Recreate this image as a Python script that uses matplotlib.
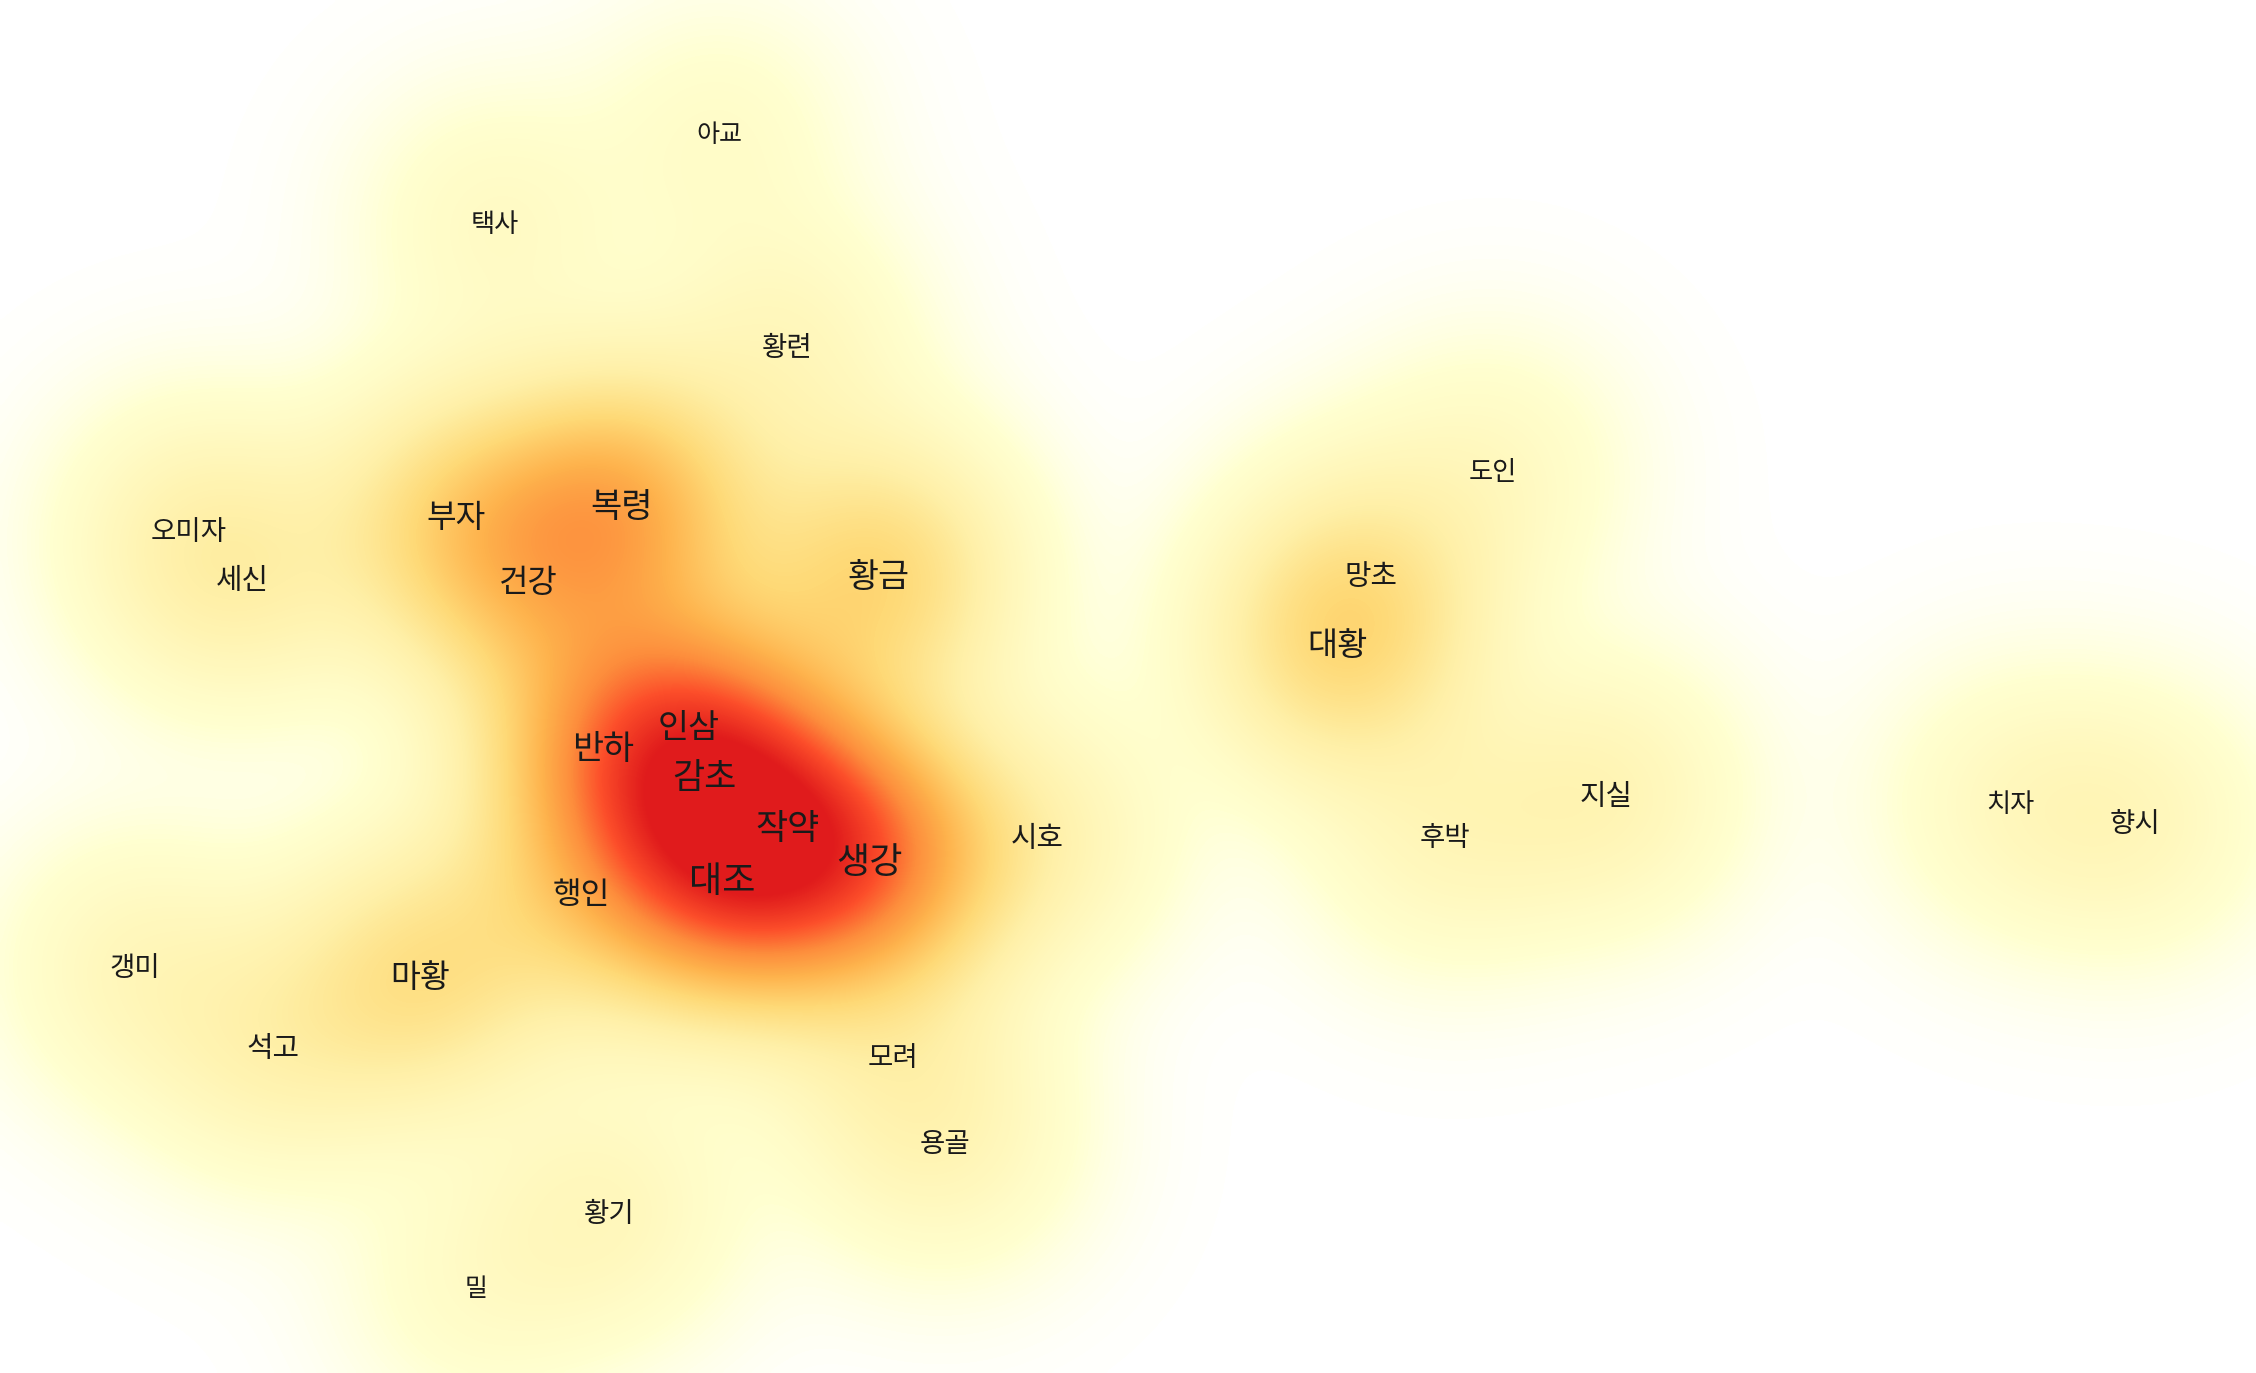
import numpy as np
import matplotlib
matplotlib.use("Agg")
import matplotlib.pyplot as plt
from matplotlib.colors import LinearSegmentedColormap, PowerNorm

plt.rcParams['font.family'] = ['Noto Sans CJK KR', 'DejaVu Sans']

# herb names, 2D layout coordinates, and frequency weights
herbs = ["아교", "택사", "황련", "도인", "오미자", "부자", "복령", "세신", "건강", "황금",
         "망초", "대황", "반하", "인삼", "감초", "작약", "생강", "대조", "행인", "시호",
         "지실", "후박", "치자", "향시", "갱미", "마황", "석고", "모려", "용골", "황기", "밀"]
pos_x = [719, 495, 787, 1493, 189, 456, 622, 242, 528, 879,
         1371, 1337, 603, 689, 704, 788, 869, 722, 581, 1037,
         1606, 1445, 2010, 2135, 135, 420, 273, 893, 945, 609, 476]
pos_y = [135, 224, 348, 472, 532, 518, 508, 581, 583, 577,
         577, 646, 750, 729, 778, 829, 863, 882, 896, 839,
         797, 839, 804, 824, 968, 978, 1049, 1058, 1144, 1214, 1289]
freq = [10, 13, 17, 13, 17, 45, 88, 22, 42, 61,
        22, 50, 61, 61, 79, 79, 100, 100, 36, 22,
        22, 17, 13, 17, 17, 47, 22, 17, 17, 17, 10]

W, H = 2256, 1373
fig = plt.figure(figsize=(W / 100, H / 100), dpi=100)
ax = fig.add_axes([0, 0, 1, 1])
ax.set_xlim(0, W)
ax.set_ylim(H, 0)
ax.axis('off')

# density surface
gx = np.arange(0, W, 4) + 2
gy = np.arange(0, H, 4) + 2
XX, YY = np.meshgrid(gx, gy)
dens = np.zeros_like(XX, dtype=float)
sigma = 88.0
for x, y, w in zip(pos_x, pos_y, freq):
    dens += w * np.exp(-((XX - x) ** 2 + (YY - y) ** 2) / (2 * sigma ** 2))

cmap = LinearSegmentedColormap.from_list("heat", [
    (0.0, "#ffffff"),
    (0.08, "#ffffd0"),
    (0.25, "#fff0a8"),
    (0.40, "#fed976"),
    (0.55, "#feb24c"),
    (0.68, "#fd8d3c"),
    (0.82, "#fc4e2a"),
    (1.0, "#e01b1c"),
])
ax.imshow(dens, extent=(0, W, H, 0), cmap=cmap,
          norm=PowerNorm(gamma=0.72, vmin=0, vmax=dens.max() * 0.8, clip=True),
          interpolation='bicubic', aspect='auto')

lw_min, lw_max = np.log(10), np.log(100)
for name, x, y, w in zip(herbs, pos_x, pos_y, freq):
    fs = 18 + 8 * np.clip((np.log(w) - lw_min) / (lw_max - lw_min), 0, 1)
    fs = min(fs, 24.5) if name in ("복령",) else fs
    ax.text(x, y, name, ha='center', va='center', fontsize=fs, color='#1a1a1a')

fig.savefig("out.png", dpi=100)
